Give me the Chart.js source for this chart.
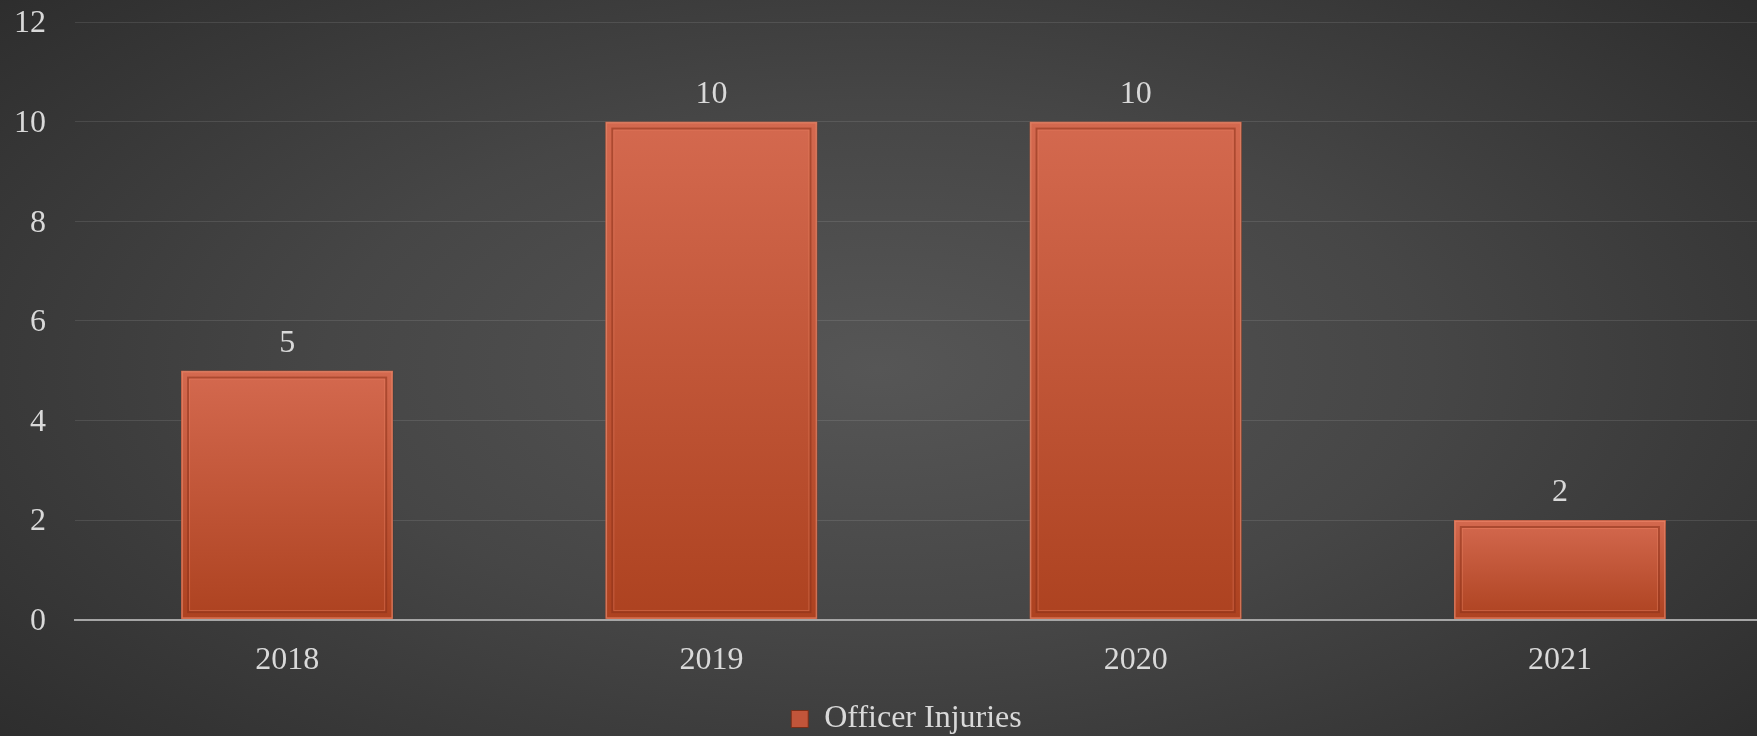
<!DOCTYPE html>
<html>
<head>
<meta charset="utf-8">
<script src="https://cdn.jsdelivr.net/npm/chart.js@4"></script>
<style>
    html, body { margin: 0; padding: 0; }
    body {
        width: 1757px;
        height: 736px;
        overflow: hidden;
        background: radial-gradient(ellipse 70% 80% at 50% 50%, #565656 0%, #464646 45%, #2b2b2b 100%);
    }
    /* plot area runs past the right edge, like the original */
    #wrap { width: 1772px; height: 736px; position: relative; }
</style>
</head>
<body>
<div id="wrap"><canvas id="injuries"></canvas></div>
<script>
// Chart data
const years = ["2018", "2019", "2020", "2021"];
const officerInjuries = [5, 10, 10, 2];
const yTicks = [0, 2, 4, 6, 8, 10, 12];

const textColor = "#d9d9d9";
const fontFamily = "'Liberation Serif', 'DejaVu Serif', serif";

// per bar vertical gradient, light top -> darker bottom
function barFill(ctx) {
    const chart = ctx.chart;
    if (ctx.dataIndex === undefined || !chart.chartArea) return "#c2553a";
    const yScale = chart.scales.y;
    const top = yScale.getPixelForValue(ctx.parsed ? ctx.parsed.y : officerInjuries[ctx.dataIndex]);
    const base = yScale.getPixelForValue(0);
    const g = chart.ctx.createLinearGradient(0, top, 0, base);
    g.addColorStop(0, "#d4694f");
    g.addColorStop(1, "#ad4220");
    return g;
}

// drop shadow behind bars
const barShadow = {
    id: "barShadow",
    beforeDatasetDraw(chart) {
        const c = chart.ctx;
        c.save();
        c.shadowColor = "rgba(0,0,0,0.55)";
        c.shadowBlur = 8;
        c.shadowOffsetX = 3;
        c.shadowOffsetY = 1;
    },
    afterDatasetDraw(chart) {
        chart.ctx.restore();
    }
};

// nudge the legend a little right (the original is centred on the plot, not the page)
const legendNudge = {
    id: "legendNudge",
    afterLayout(chart) {
        if (!chart.legend) return;
        chart.legend.left += 13;
        chart.legend.right += 13;
    }
};

// inner bevel lines + value labels
const bevelAndLabels = {
    id: "bevelAndLabels",
    afterDatasetsDraw(chart) {
        const c = chart.ctx;
        const meta = chart.getDatasetMeta(0);
        meta.data.forEach((bar, i) => {
            const p = bar.getProps(["x", "y", "base", "width"], true);
            const left = p.x - p.width / 2;
            const inset = 7;
            c.save();
            // outer rim highlight
            c.strokeStyle = "rgba(240,140,110,0.7)";
            c.lineWidth = 1.5;
            c.strokeRect(left + 1, p.y + 1, p.width - 2, p.base - p.y - 2);
            // inner bevel
            c.strokeStyle = "rgba(140,50,25,0.55)";
            c.lineWidth = 2;
            c.strokeRect(left + inset, p.y + inset, p.width - inset * 2, p.base - p.y - inset * 2);
            c.strokeStyle = "rgba(235,130,100,0.45)";
            c.lineWidth = 1;
            c.strokeRect(left + inset + 1.5, p.y + inset + 1.5, p.width - inset * 2 - 3, p.base - p.y - inset * 2 - 3);
            c.restore();

            // value label
            c.save();
            c.fillStyle = textColor;
            c.font = "32px " + fontFamily;
            c.textAlign = "center";
            c.textBaseline = "alphabetic";
            c.fillText(String(officerInjuries[i]), p.x, p.y - 19);
            c.restore();
        });
    }
};

new Chart(document.getElementById("injuries"), {
    type: "bar",
    data: {
        labels: years,
        datasets: [{
            label: "Officer Injuries",
            data: officerInjuries,
            backgroundColor: barFill,
            borderColor: "#b8492a",
            borderWidth: 1,
            categoryPercentage: 1,
            barPercentage: 0.5
        }]
    },
    options: {
        responsive: true,
        maintainAspectRatio: false,
        animation: false,
        layout: { padding: { left: 15, top: 22, right: 0, bottom: -9 } },
        scales: {
            x: {
                grid: { display: false, drawTicks: false },
                border: { color: "#a6a6a6", width: 2 },
                ticks: { color: textColor, font: { family: fontFamily, size: 32 }, padding: 22 }
            },
            y: {
                min: 0,
                max: 12,
                afterBuildTicks(axis) { axis.ticks = yTicks.map(v => ({ value: v })); },
                afterFit(axis) {
                    axis.width = 60;
                    axis.paddingTop = 0;
                    axis.paddingBottom = 0;
                },
                grid: { color: "rgba(255,255,255,0.1)", lineWidth: 1, drawTicks: false },
                border: { display: false },
                ticks: { color: textColor, font: { family: fontFamily, size: 32 }, padding: 29, labelOffset: 2 }
            }
        },
        plugins: {
            tooltip: { enabled: false },
            legend: {
                position: "bottom",
                labels: {
                    color: textColor,
                    font: { family: fontFamily, size: 32 },
                    boxWidth: 17,
                    boxHeight: 17,
                    padding: 1,
                    generateLabels(chart) {
                        return chart.data.datasets.map((ds, i) => ({
                            text: ds.label,
                            fillStyle: "#c2553a",
                            strokeStyle: "#7a2e18",
                            lineWidth: 1,
                            fontColor: textColor,
                            datasetIndex: i
                        }));
                    }
                }
            }
        }
    },
    plugins: [barShadow, legendNudge, bevelAndLabels]
});
</script>
</body>
</html>
